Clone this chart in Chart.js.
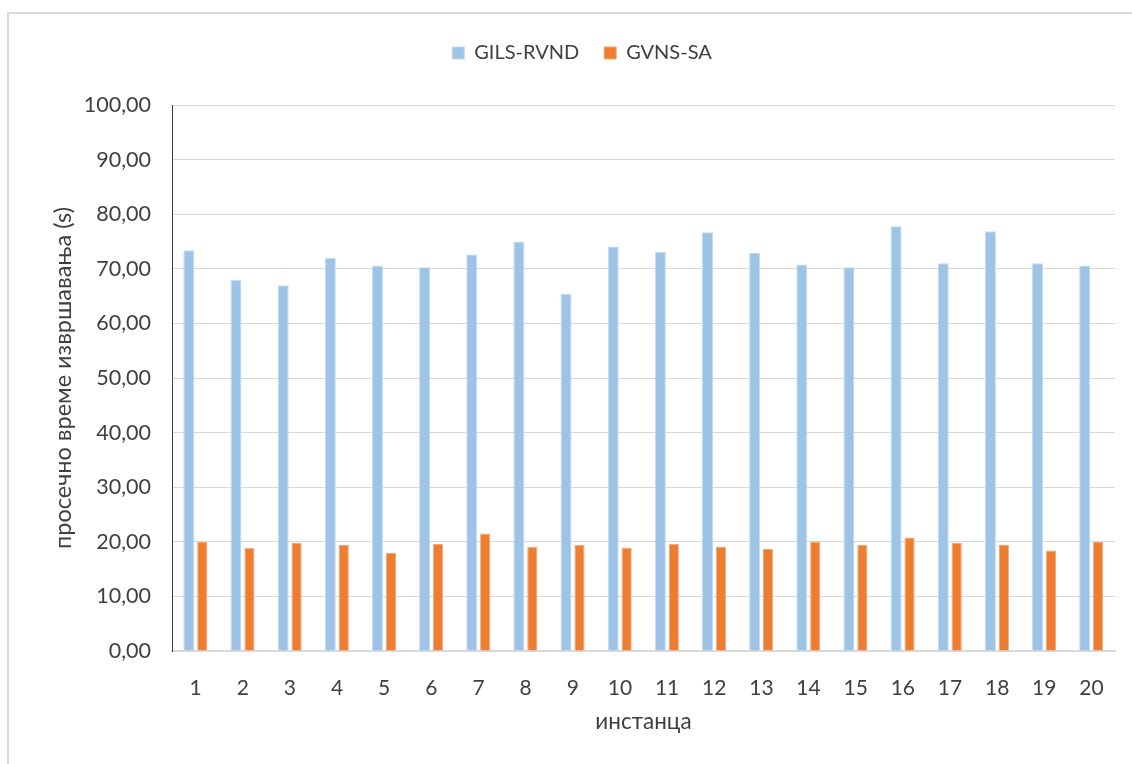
<!DOCTYPE html>
<html>
<head>
<meta charset="utf-8">
<script src="https://cdn.jsdelivr.net/npm/chart.js@4.4.1/dist/chart.umd.min.js"></script>
<style>
  html, body { margin: 0; padding: 0; background: #fff; overflow: hidden; }
  #frame { position: absolute; left: 7px; top: 12px; width: 1200px; height: 800px; border: 2px solid #d9d9d9; }
  #wrap { position: absolute; left: 0; top: 0; width: 1132px; height: 764px; }
</style>
</head>
<body>
<div id="frame"></div>
<div id="wrap"><canvas id="chart"></canvas></div>
<script>
const instances = ['1', '2', '3', '4', '5', '6', '7', '8', '9', '10',
                   '11', '12', '13', '14', '15', '16', '17', '18', '19', '20'];
const gilsRvnd = [73.4, 68.0, 67.0, 72.0, 70.6, 70.3, 72.6, 75.0, 65.4, 74.1,
                  73.1, 76.7, 72.9, 70.8, 70.3, 77.8, 71.0, 76.9, 71.0, 70.6];
const gvnsSa = [20.05, 18.9, 19.8, 19.4, 18.0, 19.6, 21.5, 19.1, 19.4, 18.9,
                19.6, 19.1, 18.7, 20.05, 19.4, 20.8, 19.8, 19.4, 18.4, 20.05];

const FONT = 'Lato, "Open Sans", sans-serif';
const TEXT = '#404040';

// push the plot down below the legend
const legendGap = {
    id: 'legendGap',
    afterInit(chart) {
        const legend = chart.legend;
        const origFit = legend.fit;
        legend.fit = function () {
            origFit.call(this);
            this.height += 32;
        };
    }
};

new Chart(document.getElementById('chart'), {
    type: 'bar',
    data: {
        labels: instances,
        datasets: [{
            label: 'GILS-RVND',
            data: gilsRvnd,
            backgroundColor: '#9dc3e6',
            borderColor: '#c3daf0',
            borderWidth: 1,
            barPercentage: 0.82,
            categoryPercentage: 0.57,
        }, {
            label: 'GVNS-SA',
            data: gvnsSa,
            backgroundColor: '#ed7d31',
            borderColor: '#f5a877',
            borderWidth: 1,
            barPercentage: 0.76,
            categoryPercentage: 0.57,
        }],
    },
    options: {
        responsive: true,
        maintainAspectRatio: false,
        animation: false,
        layout: { padding: { top: 18, left: 49, right: 17, bottom: 29 } },
        plugins: {
            legend: {
                position: 'top',
                labels: {
                    color: TEXT,
                    font: { family: FONT, size: 20 },
                    boxWidth: 12,
                    boxHeight: 12,
                    padding: 25,
                },
            },
            tooltip: { enabled: false },
        },
        scales: {
            x: {
                grid: { display: false },
                border: { color: '#d9d9d9', width: 2 },
                ticks: { color: TEXT, font: { family: FONT, size: 21 }, padding: 17, maxRotation: 0 },
                title: {
                    display: true,
                    text: 'инстанца',
                    color: TEXT,
                    font: { family: FONT, size: 22.5 },
                    padding: 0,
                },
                afterFit(scale) { scale.height = 84; },
            },
            y: {
                min: 0,
                max: 100,
                grid: { color: '#d9d9d9', drawTicks: false },
                border: { color: '#404040', width: 1 },
                ticks: {
                    stepSize: 10,
                    color: TEXT,
                    font: { family: FONT, size: 21.5 },
                    padding: 21,
                    callback: (v) => v.toFixed(2).replace('.', ','),
                },
                title: {
                    display: true,
                    text: 'просечно време извршавања (s)',
                    color: TEXT,
                    font: { family: FONT, size: 23.5 },
                    padding: 0,
                },
                afterFit(scale) { scale.width = 123; },
            },
        },
    },
    plugins: [legendGap],
});
</script>
</body>
</html>
